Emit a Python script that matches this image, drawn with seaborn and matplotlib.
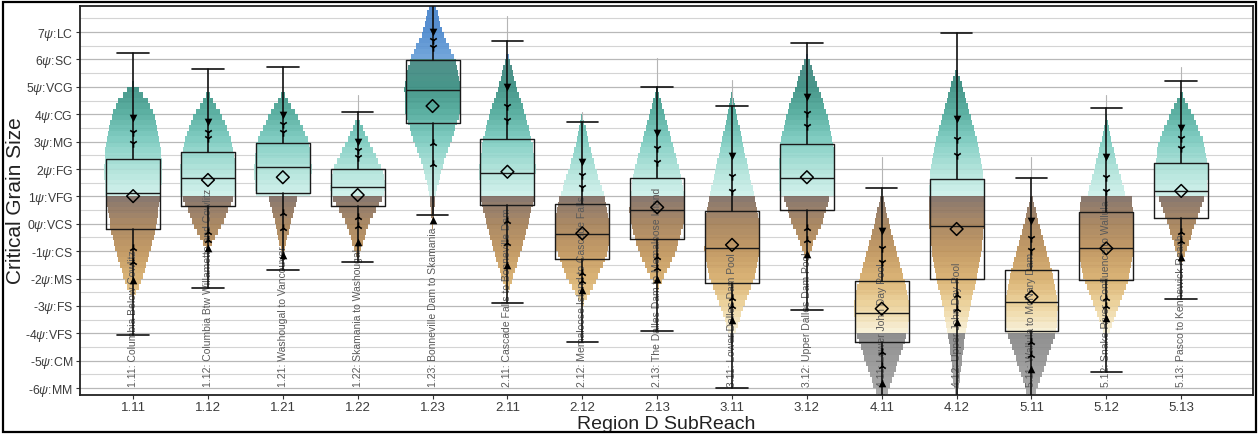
import numpy as np
import pandas as pd
import matplotlib
matplotlib.use("Agg")
import matplotlib.pyplot as plt
import seaborn as sns
from matplotlib.patches import Rectangle

# categories
reaches = ["1.11", "1.12", "1.21", "1.22", "1.23", "2.11", "2.12", "2.13",
           "3.11", "3.12", "4.11", "4.12", "5.11", "5.12", "5.13"]
reach_names = ["Columbia Below Cowlitz", "Columbia Btw Willamette and Cowlitz",
               "Washougal to Vancouver", "Skamania to Washougal",
               "Bonneville Dam to Skamania", "Cascade Falls to Bonneville Dam",
               "Memaloose Island to Cascade Falls", "The Dalles Dam to Memaloose Island",
               "Lower Dalles Dam Pool", "Upper Dalles Dam Pool",
               "Lower John Day Pool", "Upper John Day Pool",
               "Wallula to McNary Dam", "Snake River Confluence to Wallula",
               "Pasco to Kennewick Reach"]

# box statistics (phi units)
cap_hi = [6.23, 5.65, 5.72, 4.08, 8.4, 6.68, 3.72, 5.0, 4.3, 6.6, 1.3, 6.96, 1.67, 4.22, 5.21]
box_hi = [2.36, 2.62, 2.95, 2.0, 5.98, 3.09, 0.72, 1.67, 0.47, 2.91, -2.09, 1.63, -1.69, 0.43, 2.22]
median = [1.12, 1.67, 2.07, 1.34, 4.9, 1.85, -0.37, 0.5, -0.88, 1.67, -3.26, -0.08, -2.85, -0.88, 1.2]
box_lo = [-0.19, 0.65, 1.12, 0.65, 3.68, 0.69, -1.28, -0.56, -2.16, 0.5, -4.3, -2.0, -3.91, -2.05, 0.21]
cap_lo = [-4.06, -2.34, -1.69, -1.39, 0.32, -2.9, -4.3, -3.9, -6.0, -3.15, -6.6, -6.7, -6.6, -5.4, -2.75]
mean_vals = [1.01, 1.6, 1.7, 1.05, 4.3, 1.9, -0.35, 0.6, -0.77, 1.7, -3.1, -0.19, -2.67, -0.9, 1.2]
range_top = [np.nan, np.nan, np.nan, 4.7, np.nan, 7.6, 4.1, 6.05, 5.25, np.nan, 2.44, np.nan, 2.45, 4.7, 5.72]

# percentile markers along the whiskers
p_down = [3.86, 3.72, 3.97, 2.99, 7.0, 5.0, 2.26, 3.31, 2.47, 4.63, -0.26, 3.82, 0.1, 2.44, 3.5]
p_hi1 = [3.35, 3.35, 3.64, 2.69, 6.7, 4.3, 1.78, 2.76, 1.74, 4.04, -0.88, 3.09, -0.52, 1.71, 3.13]
p_hi2 = [2.95, 3.13, 3.35, 2.44, 6.45, 3.79, 1.33, 2.27, 1.2, 3.57, -1.39, 2.5, -0.96, 1.2, 2.77]
p_lo1 = [-0.88, -0.3, 0.4, 0.25, 2.95, 0.1, -1.8, -1.2, -2.7, -0.15, -4.7, -2.6, -4.3, -2.7, -0.3]
p_lo2 = [-1.39, -0.6, -0.15, -0.08, 2.2, -0.7, -2.1, -1.6, -3.0, -0.6, -5.2, -3.1, -4.8, -3.0, -0.63]
p_up = [-2.05, -0.9, -1.14, -0.66, 0.14, -1.5, -2.4, -2.0, -3.5, -1.1, -5.8, -3.6, -5.3, -3.45, -1.21]

# violin outlines: y positions and half widths (category units)
violin_y = [
    [5.15, 4.5, 4.0, 3.0, 2.0, 1.0, -0.3, -1.0, -2.0, -2.8],
    [4.8, 4.0, 3.0, 2.0, 1.0, 0.9, 0.0, -0.5, -1.0],
    [4.8, 4.0, 3.0, 2.0, 1.2, 1.0, 0.99, 0.0, -1.3],
    [3.9, 3.0, 2.0, 1.3, 0.9, 0.5, 0.0, -0.7, -1.3],
    [8.5, 7.0, 6.0, 5.0, 4.0, 3.0, 2.0, 1.0, -0.3],
    [6.3, 5.0, 4.0, 3.0, 2.0, 1.0, 0.0, -1.0, -2.0, -2.6],
    [4.1, 3.0, 2.0, 1.0, 0.0, -0.5, -1.0, -2.0, -3.0],
    [5.0, 4.0, 3.0, 2.0, 1.0, 0.5, 0.0, -1.0, -2.0, -2.4],
    [4.8, 4.0, 3.0, 2.0, 1.0, 0.0, -1.0, -2.0, -3.0, -4.0, -4.4],
    [6.2, 5.0, 4.0, 3.0, 2.0, 1.0, 0.9, 0.0, -0.6, -1.4],
    [1.2, 0.0, -1.0, -2.0, -3.0, -4.0, -5.0, -6.0, -6.6],
    [5.7, 5.0, 4.0, 3.0, 2.0, 1.0, 0.0, -1.0, -2.0, -3.0, -4.0, -5.0, -6.0, -6.6],
    [1.1, 0.0, -1.0, -2.0, -3.0, -4.0, -5.0, -6.0, -6.6],
    [4.0, 3.0, 2.0, 1.0, 0.9, 0.0, -1.0, -2.0, -3.0, -4.0, -4.2],
    [4.8, 4.0, 3.0, 2.0, 1.0, 0.9, 0.0, -1.0, -1.5],
]
violin_hw = [
    [0.0, 0.2, 0.28, 0.36, 0.39, 0.37, 0.29, 0.23, 0.12, 0.0],
    [0.0, 0.18, 0.32, 0.38, 0.37, 0.33, 0.2, 0.1, 0.0],
    [0.0, 0.18, 0.35, 0.39, 0.37, 0.35, 0.2, 0.1, 0.0],
    [0.0, 0.15, 0.33, 0.37, 0.33, 0.25, 0.15, 0.07, 0.0],
    [0.0, 0.13, 0.3, 0.38, 0.36, 0.25, 0.12, 0.04, 0.0],
    [0.0, 0.12, 0.24, 0.33, 0.38, 0.36, 0.28, 0.18, 0.07, 0.0],
    [0.0, 0.08, 0.18, 0.3, 0.37, 0.37, 0.34, 0.2, 0.0],
    [0.0, 0.1, 0.2, 0.3, 0.36, 0.37, 0.35, 0.25, 0.08, 0.0],
    [0.0, 0.06, 0.14, 0.22, 0.3, 0.36, 0.37, 0.3, 0.16, 0.04, 0.0],
    [0.0, 0.15, 0.27, 0.35, 0.38, 0.36, 0.3, 0.2, 0.1, 0.0],
    [0.0, 0.1, 0.2, 0.3, 0.38, 0.34, 0.22, 0.1, 0.0],
    [0.0, 0.08, 0.18, 0.28, 0.35, 0.37, 0.37, 0.33, 0.27, 0.18, 0.12, 0.07, 0.03, 0.0],
    [0.0, 0.1, 0.2, 0.3, 0.35, 0.33, 0.2, 0.08, 0.0],
    [0.0, 0.07, 0.16, 0.26, 0.34, 0.37, 0.37, 0.3, 0.17, 0.03, 0.0],
    [0.0, 0.15, 0.3, 0.36, 0.34, 0.3, 0.18, 0.07, 0.0],
]

tick_vals = list(range(7, -7, -1))
tick_names = ["LC", "SC", "VCG", "CG", "MG", "FG", "VFG", "VCS", "CS", "MS", "FS", "VFS", "CM", "MM"]

# colour stops by grain size (phi)
stop_y = [-7.0, -4.001, -4.0, -3.0, -2.0, -1.0, 0.0, 0.999, 1.0, 2.0, 3.0, 4.0, 5.0, 5.999, 6.0, 7.0, 9.0]
stop_rgb = np.array([
    [170, 170, 170], [128, 128, 128], [248, 241, 216], [236, 208, 148], [214, 170, 100],
    [188, 142, 82], [160, 122, 80], [118, 100, 92], [205, 240, 234], [168, 224, 214],
    [118, 202, 190], [72, 168, 152], [46, 136, 122], [58, 128, 122], [98, 156, 214],
    [66, 130, 204], [50, 112, 192]]) / 255.0


def phi_color(y):
    return [np.interp(y, stop_y, stop_rgb[:, k]) for k in range(3)]


sns.set_theme(style="white")
plt.rcParams["font.family"] = ["Liberation Sans", "DejaVu Sans"]
plt.rcParams["mathtext.fontset"] = "custom"
plt.rcParams["mathtext.it"] = "Liberation Sans:italic"
plt.rcParams["mathtext.rm"] = "Liberation Sans"

fig = plt.figure(figsize=(12.59, 4.34), dpi=100)
ax = fig.add_axes([0.0635, 0.090, 0.9318, 0.896])

# stepped, colour-graded violins
step = 0.2
for i in range(len(reaches)):
    vy = np.array(violin_y[i])[::-1]
    vw = np.array(violin_hw[i])[::-1]
    k0 = np.floor((vy.min() - 1) / step)
    k1 = np.ceil((vy.max() - 1) / step)
    centers = 1 + step * (np.arange(k0, k1) + 0.5)
    hw = np.interp(centers, vy, vw)
    keep = hw > 0.005
    centers, hw = centers[keep], hw[keep]
    cols = [phi_color(c) for c in centers]
    ax.barh(centers, 2 * hw, left=i - hw, height=step, color=cols,
            alpha=0.88, linewidth=0, zorder=2)

# thin range lines above whisker caps
for i, rt in enumerate(range_top):
    if not np.isnan(rt):
        ax.plot([i, i], [cap_hi[i], rt], color="#b5b5b5", lw=0.8, zorder=2.5)

# boxes and whiskers
stats = []
for i in range(len(reaches)):
    stats.append(dict(med=median[i], q1=box_lo[i], q3=box_hi[i],
                      whislo=cap_lo[i], whishi=cap_hi[i], fliers=[]))
ax.bxp(stats, positions=np.arange(len(reaches)), widths=0.72, capwidths=0.42,
       showfliers=False, patch_artist=False, manage_ticks=False,
       boxprops=dict(color="#1a1a1a", lw=1.0),
       medianprops=dict(color="#1a1a1a", lw=1.0),
       whiskerprops=dict(color="#111111", lw=1.2),
       capprops=dict(color="#111111", lw=1.2), zorder=4)

# reach names written up each column
for i, (r, n) in enumerate(zip(reaches, reach_names)):
    ax.text(i, -5.97, f"{r}: {n}", rotation=90, ha="center", va="bottom",
            fontsize=7.5, color="#5a5a5a", zorder=3)

# percentile markers
marks = pd.DataFrame({"reach": reaches, "down": p_down, "hi1": p_hi1, "hi2": p_hi2,
                      "lo1": p_lo1, "lo2": p_lo2, "up": p_up, "mean": mean_vals})
common = dict(x="reach", order=reaches, jitter=False, ax=ax, zorder=5, legend=False)
sns.stripplot(data=marks, y="down", marker="v", color="black", size=5.5, **common)
sns.stripplot(data=marks, y="hi1", marker="1", color="black", size=6, linewidth=1.2, **common)
sns.stripplot(data=marks, y="hi2", marker="1", color="black", size=6, linewidth=1.2, **common)
sns.stripplot(data=marks, y="lo1", marker="2", color="black", size=6, linewidth=1.2, **common)
sns.stripplot(data=marks, y="lo2", marker="2", color="black", size=6, linewidth=1.2, **common)
sns.stripplot(data=marks, y="up", marker="^", color="black", size=5.5, **common)
sns.stripplot(data=marks, y="mean", marker="D", facecolor="none", edgecolor="black",
              size=6.5, linewidth=1.1, **common)

ax.set_xlim(-0.71, 14.96)
ax.set_ylim(-6.25, 7.95)
ax.set_yticks(tick_vals)
ax.set_yticklabels([f"{v}$\\psi$:{n}" for v, n in zip(tick_vals, tick_names)])
ax.set_yticks(np.arange(-5.5, 7.6, 1.0), minor=True)
ax.set_xticks(range(len(reaches)))
ax.set_xticklabels(reaches)
ax.grid(axis="y", which="major", color="#b8b8b8", lw=0.9, zorder=0)
ax.grid(axis="y", which="minor", color="#d4d4d4", lw=0.8, zorder=0)
ax.grid(axis="x", visible=False)
ax.set_axisbelow(True)
ax.tick_params(axis="x", which="major", labelsize=9.5, labelcolor="#3a3a3a",
               length=3, width=0.8, color="#333333", bottom=True, pad=2)
ax.tick_params(axis="y", which="major", labelsize=8.8, labelcolor="#3a3a3a",
               length=3, width=0.8, color="#333333", left=True, pad=2)
ax.tick_params(axis="y", which="minor", length=0)
ax.set_xlabel("Region D SubReach", fontsize=14, color="#222222")
ax.set_ylabel("Critical Grain Size", fontsize=15, color="#222222")
ax.xaxis.set_label_coords(0.5, -0.053)
ax.yaxis.set_label_coords(-0.047, 0.5)
for s in ax.spines.values():
    s.set_color("#222222")
    s.set_linewidth(1.3)

fig.patches.append(Rectangle((0.002, 0.004), 0.996, 0.992, transform=fig.transFigure,
                             fill=False, edgecolor="black", lw=1.6))

fig.savefig("out.png", dpi=100)
